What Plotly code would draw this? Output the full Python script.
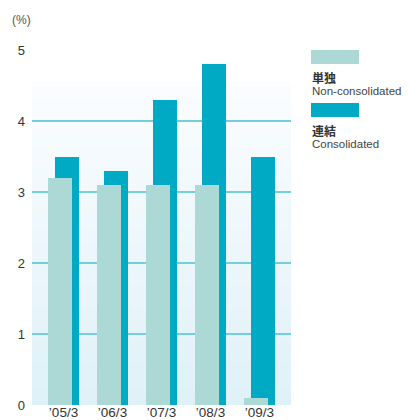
import plotly.graph_objects as go

categories = ["’05/3", "’06/3", "’07/3", "’08/3", "’09/3"]
non_consolidated = [3.2, 3.1, 3.1, 3.1, 0.1]
consolidated = [3.5, 3.3, 4.3, 4.8, 3.5]
y_ticks = [0, 1, 2, 3, 4, 5]
legend_names_jp = ["単独", "連結"]
legend_names_en = ["Non-consolidated", "Consolidated"]

LIGHT = "#acd9d6"
DARK = "#00a9c4"
GRID = "#72d0dd"

W, H = 402, 412          # page body has an 8px margin
ML, MR, MT, MB = 24, 119, 42, 15
PW, PH = W - ML - MR, H - MT - MB

def px(x):   # page x (reference pixels) -> paper x
    return (x - 8 - ML) / PW

def py(y):   # page y (reference pixels) -> paper y
    return 1 - (y - 8 - MT) / PH

x_idx = list(range(len(categories)))

fig = go.Figure()
fig.add_trace(go.Bar(x=x_idx, y=consolidated, marker=dict(color=DARK, line=dict(width=0)),
                     width=0.49, offset=-0.173, name="連結"))
fig.add_trace(go.Bar(x=x_idx, y=non_consolidated, marker=dict(color=LIGHT, line=dict(width=0)),
                     width=0.49, offset=-0.316, name="単独"))

# gradient background (bands)
n = 60
top = 4.55
def lerp(a, b, t):
    return int(round(a + (b - a) * t))
c_top = (251, 253, 255)
c_bot = (223, 241, 248)
for i in range(n):
    y0 = top * i / n
    y1 = min(top * (i + 1) / n + 0.01, top)
    t = 1 - (i + 0.5) / n
    col = "rgb(%d,%d,%d)" % tuple(lerp(c_top[k], c_bot[k], t) for k in range(3))
    fig.add_shape(type="rect", xref="x domain", yref="y", x0=0, x1=1, y0=y0, y1=y1,
                  fillcolor=col, line=dict(width=0), layer="below")

# legend
colors = [LIGHT, DARK]
sw_top = [50, 103]
for i in range(2):
    s = sw_top[i]
    fig.add_shape(type="rect", xref="paper", yref="paper",
                  x0=px(311), x1=px(359), y0=py(s), y1=py(s + 14),
                  fillcolor=colors[i], line=dict(width=0))
    fig.add_annotation(xref="paper", yref="paper", x=px(310), y=py(s + 27),
                       text="<b>%s</b>" % legend_names_jp[i], showarrow=False,
                       xanchor="left", yanchor="middle",
                       font=dict(family="Noto Sans CJK JP", size=12, color="#333"))
    fig.add_annotation(xref="paper", yref="paper", x=px(310), y=py(s + 41),
                       text=legend_names_en[i], showarrow=False,
                       xanchor="left", yanchor="middle",
                       font=dict(family="Liberation Sans, Arial", size=11.5, color="#444"))

fig.add_annotation(xref="paper", yref="paper", x=px(10), y=py(20), text="(%)", showarrow=False,
                   xanchor="left", yanchor="middle",
                   font=dict(family="Liberation Sans, Arial", size=12, color="#555"))

fig.update_layout(
    width=W, height=H,
    margin=dict(l=ML, r=MR, t=MT, b=MB, autoexpand=False),
    paper_bgcolor="white", plot_bgcolor="white",
    barmode="overlay", showlegend=False, bargap=0,
    font=dict(family="Liberation Sans, Arial", size=12, color="#333"),
)
fig.update_xaxes(range=[-0.643, 4.643], tickvals=x_idx, ticktext=categories,
                 showgrid=False, zeroline=False, showline=False, ticks="", automargin=False,
                 tickfont=dict(size=13.5, color="#333"), ticklabelstandoff=-3)
fig.update_yaxes(range=[0, 5], tickvals=y_ticks, showgrid=True, gridcolor=GRID, gridwidth=2,
                 zeroline=False, showline=False, ticks="", automargin=False,
                 tickfont=dict(size=13, color="#333"), ticklabelstandoff=6)

fig.write_html("out.html")
